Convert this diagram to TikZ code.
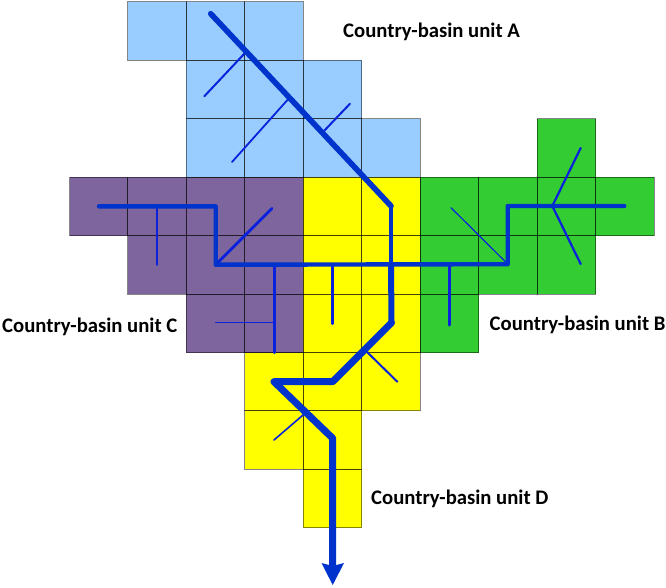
\documentclass[tikz,border=0pt]{standalone}
\usepackage{fontspec}
\setmainfont{Carlito}
\definecolor{basinA}{HTML}{99CCFF}
\definecolor{basinB}{HTML}{33CC33}
\definecolor{basinC}{HTML}{7F659E}
\definecolor{basinD}{HTML}{FFFF00}
\definecolor{river}{HTML}{0033CC}
\definecolor{trib}{HTML}{0A22DC}
\tikzset{
  cellfill/.style={fill=#1,draw=none},
  cellline/.style={draw=black,draw opacity=.48,line width=1pt,fill=none},
  main/.style={draw=river,line join=round,line cap=round},
  tribline/.style={draw=trib,line cap=round},
  unitlabel/.style={font=\bfseries\fontsize{20.7}{24}\selectfont,text=black,inner sep=0pt,anchor=west}
}
\begin{document}
\begin{tikzpicture}[x=1pt,y=-1pt]
\useasboundingbox (0,0) rectangle (666,587);
\def\allcells{1/0/basinA,2/0/basinA,3/0/basinA,2/1/basinA,3/1/basinA,4/1/basinA,2/2/basinA,3/2/basinA,4/2/basinA,5/2/basinA,
8/2/basinB,6/3/basinB,7/3/basinB,8/3/basinB,9/3/basinB,6/4/basinB,7/4/basinB,8/4/basinB,6/5/basinB,
0/3/basinC,1/3/basinC,2/3/basinC,3/3/basinC,1/4/basinC,2/4/basinC,3/4/basinC,2/5/basinC,3/5/basinC,
4/3/basinD,5/3/basinD,4/4/basinD,5/4/basinD,4/5/basinD,5/5/basinD,3/6/basinD,4/6/basinD,5/6/basinD,3/7/basinD,4/7/basinD,4/8/basinD}
\foreach \cc/\rr/\col in \allcells {
  \path[cellfill=\col] ({69.5+58.45*\cc},{1.8+58.45*\rr}) rectangle ++(58.45,58.45);
}
\foreach \cc/\rr/\col in \allcells {
  \path[cellline] ({69.5+58.45*\cc},{1.8+58.45*\rr}) rectangle ++(58.45,58.45);
}
% tributaries
\draw[tribline,line width=2pt] (245,53) -- (204.3,96.3);
\draw[tribline,line width=1.8pt] (288.3,99) -- (232,162);
\draw[tribline,line width=2pt] (323.3,131.7) -- (350,103.7);
\draw[tribline,line width=1.4pt] (157,206) -- (157,265);
\draw[tribline,line width=2.8pt] (215.7,264.7) -- (272,208.3);
\draw[tribline,line width=3pt] (274,265) -- (274,352.7);
\draw[tribline,line width=1.2pt] (272.7,322.7) -- (215.7,322.7);
\draw[tribline,line width=2.6pt] (332.7,265) -- (332.7,323.7);
\draw[tribline,line width=3pt] (449.5,264) -- (449.5,325);
\draw[tribline,line width=1.2pt] (507.7,264) -- (451,207.7);
\draw[tribline,line width=2.2pt] (580.7,148) -- (552.3,206) -- (580.7,264);
\draw[tribline,line width=2pt] (365,350) -- (397.3,381.7);
\draw[tribline,line width=1.6pt] (305,413.3) -- (274,440);
% main rivers
\draw[main,line width=4.4pt] (99,206.3) -- (215.7,206.3) -- (215.7,264.7) -- (507.7,264.2) -- (507.7,206) -- (624.3,206);
\draw[main,line width=5.6pt] (210.7,13.7) -- (391,206);
\draw[main,line width=4.6pt] (391,206) -- (391,264);
\draw[main,line width=6pt] (391,264) -- (391.5,322.7);
\draw[main,line width=7pt] (391.5,322.7) -- (332.7,381.7) -- (274,381.7) -- (332.7,438.3) -- (332.7,566);
\fill[river] (321.5,563) -- (332.7,566) -- (344,563) -- (332.7,585) -- cycle;
% labels
\node[unitlabel] (unitA) at (343,31.5) {Country-basin unit A};
\node[unitlabel] (unitB) at (489.5,324.5) {Country-basin unit B};
\node[unitlabel] (unitC) at (2,326.5) {Country-basin unit C};
\node[unitlabel] (unitD) at (371,498.5) {Country-basin unit D};
\end{tikzpicture}
\end{document}
